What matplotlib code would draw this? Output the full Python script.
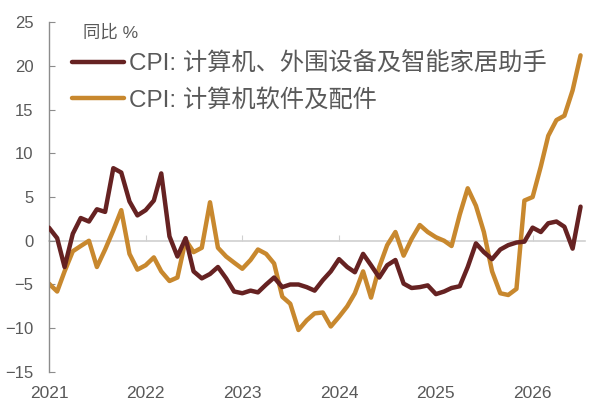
import matplotlib
matplotlib.use("Agg")
import matplotlib.pyplot as plt
import matplotlib.dates as mdates
import pandas as pd

# monthly, Jan 2021 - Jul 2026
months = pd.date_range("2021-01-01", periods=67, freq="MS")

hw_label = "CPI: 计算机、外围设备及智能家居助手"
hw = [1.5, 0.3, -3.0, 0.8, 2.6, 2.2, 3.6, 3.3, 8.3, 7.8, 4.5, 2.9,
      3.5, 4.6, 7.7, 0.5, -1.8, 0.3, -3.5, -4.3, -3.8, -3.0, -4.3, -5.8,
      -6.0, -5.7, -5.9, -5.0, -4.2, -5.3, -5.0, -5.0, -5.3, -5.7, -4.5, -3.5,
      -2.1, -3.0, -3.6, -1.5, -2.8, -4.2, -2.8, -2.2, -4.9, -5.4, -5.3, -5.1,
      -6.1, -5.8, -5.4, -5.2, -3.0, -0.3, -1.3, -2.1, -1.0, -0.5, -0.2, -0.1,
      1.5, 1.0, 2.0, 2.2, 1.6, -0.9, 3.9]

sw_label = "CPI: 计算机软件及配件"
sw = [-4.9, -5.8, -3.5, -1.2, -0.6, 0.0, -3.0, -1.0, 1.2, 3.5, -1.5, -3.3,
      -2.8, -1.9, -3.5, -4.6, -4.2, 0.1, -1.3, -0.8, 4.4, -0.8, -1.8, -2.5,
      -3.2, -2.2, -1.0, -1.5, -2.6, -6.4, -7.2, -10.2, -9.1, -8.3, -8.2, -9.8,
      -8.7, -7.5, -6.0, -3.5, -6.5, -3.0, -0.5, 1.0, -1.7, 0.2, 1.8, 1.0,
      0.4, 0.0, -0.6, 3.0, 6.0, 4.0, 1.0, -3.5, -6.0, -6.2, -5.5, 4.6,
      5.0, 8.5, 12.0, 13.8, 14.3, 17.2, 21.2]

unit_label = "同比 %"
yticks = [-15, -10, -5, 0, 5, 10, 15, 20, 25]

dark = "#662222"
gold = "#C8882E"
grey_txt = "#595959"
fonts = ["Liberation Sans", "Noto Sans CJK SC", "DejaVu Sans"]
plt.rcParams["font.family"] = fonts

fig = plt.figure(figsize=(5.97, 4.17), dpi=100)
ax = fig.add_axes([0.082, 0.108, 0.898, 0.839])

ax.plot(months, hw, color=dark, lw=3.2, solid_joinstyle="round",
        solid_capstyle="round", label=hw_label, zorder=3)
ax.plot(months, sw, color=gold, lw=3.2, solid_joinstyle="round",
        solid_capstyle="round", label=sw_label, zorder=2)

ax.set_ylim(-15, 25)
ax.set_yticks(yticks)
ax.set_xlim(pd.Timestamp("2021-01-01"), pd.Timestamp("2026-07-18"))
ax.xaxis.set_major_locator(mdates.YearLocator())
ax.xaxis.set_major_formatter(mdates.DateFormatter("%Y"))

for s in ["top", "right", "bottom"]:
    ax.spines[s].set_visible(False)
ax.spines["left"].set_color("#8c8c8c")
ax.spines["left"].set_linewidth(1.0)
ax.tick_params(axis="y", direction="in", length=4, color="#8c8c8c",
               labelcolor=grey_txt, labelsize=12, pad=11)
ax.tick_params(axis="x", length=0, labelcolor=grey_txt, labelsize=12.5, pad=10)

# zero line with small year ticks
zero = ax.secondary_xaxis(15 / 40)
zero.spines["bottom"].set_color("#d0d0d0")
zero.spines["bottom"].set_linewidth(1.2)
zero.xaxis.set_major_locator(mdates.YearLocator())
zero.tick_params(axis="x", direction="in", length=4, color="#d0d0d0",
                 labelbottom=False)

ax.text(0.063, 0.995, unit_label, transform=ax.transAxes, fontsize=12.5,
        color=grey_txt, va="top", ha="left")
ax.legend(loc="upper left", bbox_to_anchor=(0.025, 0.94), frameon=False,
          fontsize=17.5, handlelength=2.15, handletextpad=0.2,
          labelspacing=0.52, labelcolor=grey_txt, borderaxespad=0)

fig.savefig("out.png", dpi=100)
